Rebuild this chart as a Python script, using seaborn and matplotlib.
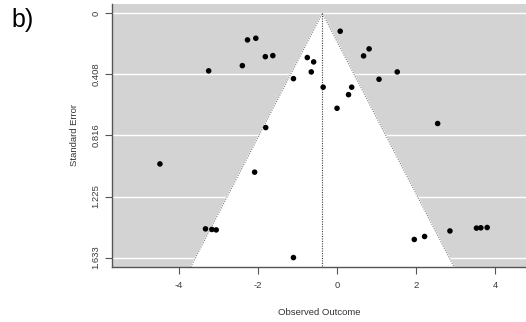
import numpy as np
import pandas as pd
import matplotlib
matplotlib.use("Agg")
import matplotlib.pyplot as plt
import seaborn as sns

# Study effect estimates (observed outcomes) and their standard errors
observed = [-2.26, -2.05, -2.39, -3.24, -1.81, -1.80, -1.62, 0.08, 0.81, 0.67,
            -0.75, -0.59, -0.65, -1.10, 1.52, 1.06, -0.35, 0.37, 0.29, 0.00,
            2.54, -4.47, -2.08, -3.32, -3.16, -3.05, -1.10, 1.95, 2.21, 2.85,
            3.52, 3.63, 3.79]
std_error = [0.178, 0.167, 0.350, 0.385, 0.290, 0.764, 0.283, 0.120, 0.238, 0.285,
             0.296, 0.325, 0.392, 0.437, 0.392, 0.441, 0.494, 0.494, 0.544, 0.635,
             0.737, 1.007, 1.062, 1.441, 1.445, 1.448, 1.633, 1.512, 1.492, 1.455,
             1.436, 1.434, 1.432]

# Pooled estimate and axis tick values
pooled = -0.37
x_ticks = [-4, -2, 0, 2, 4]
y_ticks = [0, 0.408, 0.816, 1.225, 1.633]
y_tick_labels = ["0", "0.408", "0.816", "1.225", "1.633"]

df = pd.DataFrame({"Observed Outcome": observed, "Standard Error": std_error})

sns.set_theme(style="ticks")
plt.rcParams["font.family"] = ["Liberation Sans", "DejaVu Sans"]

fig = plt.figure(figsize=(5.26, 3.22), dpi=100)
ax = fig.add_axes([112 / 526, 55 / 322, 1 - 112 / 526, 263 / 322])

x_lo, x_hi = -5.68, 4.77
y_top, y_bot = -0.062, 1.696
ax.set_xlim(x_lo, x_hi)
ax.set_ylim(y_bot, y_top)

ax.set_facecolor("#d3d3d3")
for yt in y_ticks:
    ax.axhline(yt, color="white", lw=1.0, zorder=1)

# Pseudo confidence region (95%) around the pooled estimate
se_max = y_bot
left_edge = pooled - 1.96 * se_max
right_edge = pooled + 1.96 * se_max
ax.fill([left_edge, pooled, right_edge], [se_max, 0, se_max],
        color="white", zorder=2)
ax.plot([left_edge, pooled, right_edge], [se_max, 0, se_max],
        color="#808080", lw=0.8, ls=(0, (1, 1.2)), zorder=3)
ax.plot([pooled, pooled], [0, se_max], color="#404040", lw=0.8,
        ls=(0, (1, 1.2)), zorder=3)

sns.scatterplot(data=df, x="Observed Outcome", y="Standard Error", ax=ax,
                color="black", s=16, edgecolor="none", zorder=4)

ax.set_xticks(x_ticks)
ax.set_xticklabels([str(t) for t in x_ticks])
ax.set_yticks(y_ticks)
ax.set_yticklabels(y_tick_labels, rotation=90, va="center")
ax.tick_params(axis="both", labelsize=6.8, labelcolor="#3a3a3a",
               color="#555555", length=5, width=0.8)
ax.tick_params(axis="x", pad=5)
ax.tick_params(axis="y", pad=3.5)

for side in ["top", "right"]:
    ax.spines[side].set_visible(False)
for side in ["left", "bottom"]:
    ax.spines[side].set_color("#555555")
    ax.spines[side].set_linewidth(1.0)

ax.set_xlabel("Observed Outcome", fontsize=6.8, color="#333333", labelpad=13)
ax.set_ylabel("Standard Error", fontsize=6.8, color="#333333", labelpad=9)

fig.text(11 / 526, 1 - 20 / 322, "b)", fontsize=18, color="black",
         va="center", ha="left")

fig.savefig("out.png", dpi=100)
